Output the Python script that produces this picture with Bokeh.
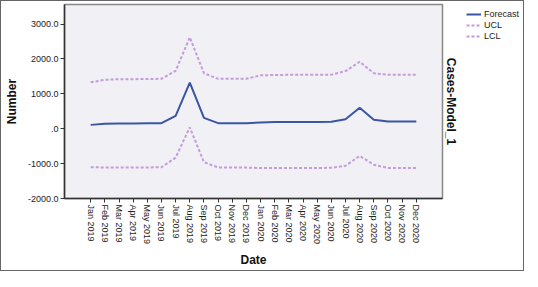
from bokeh.plotting import figure
from bokeh.models import FactorRange, FixedTicker, Legend, LegendItem, Title, ColumnDataSource
from bokeh.layouts import row
from bokeh.embed import file_html
from bokeh.resources import INLINE
import math

months = ["Jan 2019", "Feb 2019", "Mar 2019", "Apr 2019", "May 2019", "Jun 2019",
          "Jul 2019", "Aug 2019", "Sep 2019", "Oct 2019", "Nov 2019", "Dec 2019",
          "Jan 2020", "Feb 2020", "Mar 2020", "Apr 2020", "May 2020", "Jun 2020",
          "Jul 2020", "Aug 2020", "Sep 2020", "Oct 2020", "Nov 2020", "Dec 2020"]

forecast = [110, 140, 150, 150, 155, 160, 370, 1320, 310, 160, 160, 160,
            180, 190, 195, 195, 195, 200, 270, 600, 260, 205, 205, 205]
ucl = [1330, 1400, 1420, 1420, 1425, 1430, 1660, 2620, 1590, 1430, 1430, 1430,
       1530, 1540, 1545, 1545, 1545, 1550, 1650, 1920, 1590, 1545, 1545, 1545]
lcl = [-1105, -1110, -1110, -1110, -1110, -1105, -830, 40, -960, -1110, -1110, -1115,
       -1125, -1125, -1125, -1125, -1125, -1120, -1060, -780, -1030, -1125, -1125, -1125]

series_names = ["Forecast", "UCL", "LCL"]

y_ticks = [-2000, -1000, 0, 1000, 2000, 3000]
y_tick_labels = ["-2000.0", "-1000.0", ".0", "1000.0", "2000.0", "3000.0"]

FONT = "Liberation Sans"
BLUE = "#3a55a5"
PURPLE = "#c49bdb"

src = ColumnDataSource(dict(month=months, forecast=forecast, ucl=ucl, lcl=lcl))

p = figure(width=460, height=269, output_backend="svg", toolbar_location=None,
           x_range=FactorRange(*months, range_padding=1.35, range_padding_units="absolute"),
           y_range=(-2000, 3560),
           min_border_left=54, min_border_top=3, min_border_bottom=0, min_border_right=2)

p.background_fill_color = "#f1f1f5"
p.border_fill_color = "white"
p.outline_line_color = "#888888"
p.outline_line_width = 1.5
p.grid.visible = False

styles = [dict(line_color=BLUE, line_width=2),
          dict(line_color=PURPLE, line_width=2, line_dash="3 2"),
          dict(line_color=PURPLE, line_width=2, line_dash="3 2")]
cols = ["forecast", "ucl", "lcl"]

for col, st in zip(cols, styles):
    p.line("month", col, source=src, **st)

p.yaxis.ticker = FixedTicker(ticks=y_ticks)
p.yaxis.major_label_overrides = {t: l for t, l in zip(y_ticks, y_tick_labels)}
p.yaxis.axis_label = "Number"

p.xaxis.axis_label = "Date"
p.xaxis.major_label_orientation = -math.pi / 2

for ax in (p.xaxis[0], p.yaxis[0]):
    ax.axis_line_color = "#333333"
    ax.axis_line_width = 1.5
    ax.major_tick_line_color = "#333333"
    ax.major_tick_in = 0
    ax.major_tick_out = 4
    ax.minor_tick_line_color = None
    ax.major_label_text_font = FONT
    ax.major_label_text_font_size = "9px"
    ax.major_label_text_color = "#222222"
    ax.major_label_standoff = 2
    ax.axis_label_text_font = FONT
    ax.axis_label_text_font_size = "12px"
    ax.axis_label_text_font_style = "bold"
    ax.axis_label_text_color = "#111111"
    ax.axis_label_standoff = 6
p.xaxis.major_label_standoff = 2
p.xaxis.axis_label_standoff = 6

side_title = Title(text="Cases-Model_1", align="center", text_font=FONT,
                   text_font_size="12px", text_font_style="bold", text_color="#111111",
                   standoff=3)
p.add_layout(side_title, "right")

# legend panel as a separate small figure; its lines are drawn from the same
# series but fall outside this small figure's view, only the legend shows
lg = figure(width=62, height=269, output_backend="svg", toolbar_location=None,
            x_range=FactorRange(*months), y_range=(100000, 100001), min_border=0,
            x_axis_type=None, y_axis_type=None)
lg.outline_line_color = None
lg.grid.visible = False
lg.background_fill_color = "white"
lg.border_fill_color = "white"
items = []
for name, col, st in zip(series_names, cols, styles):
    r = lg.line("month", col, source=src, **st)
    items.append(LegendItem(label=name, renderers=[r]))
legend = Legend(items=items, location="top_left",
                label_text_font=FONT, label_text_font_size="9px",
                label_text_color="#222222", glyph_width=15, glyph_height=10,
                label_height=10, spacing=1, padding=0, label_standoff=3,
                border_line_color=None, background_fill_alpha=0)
legend.margin = 5
lg.add_layout(legend, "center")

layout = row(p, lg, styles={"border": "1px solid #666"})

open("out.html", "w").write(file_html(layout, INLINE))
